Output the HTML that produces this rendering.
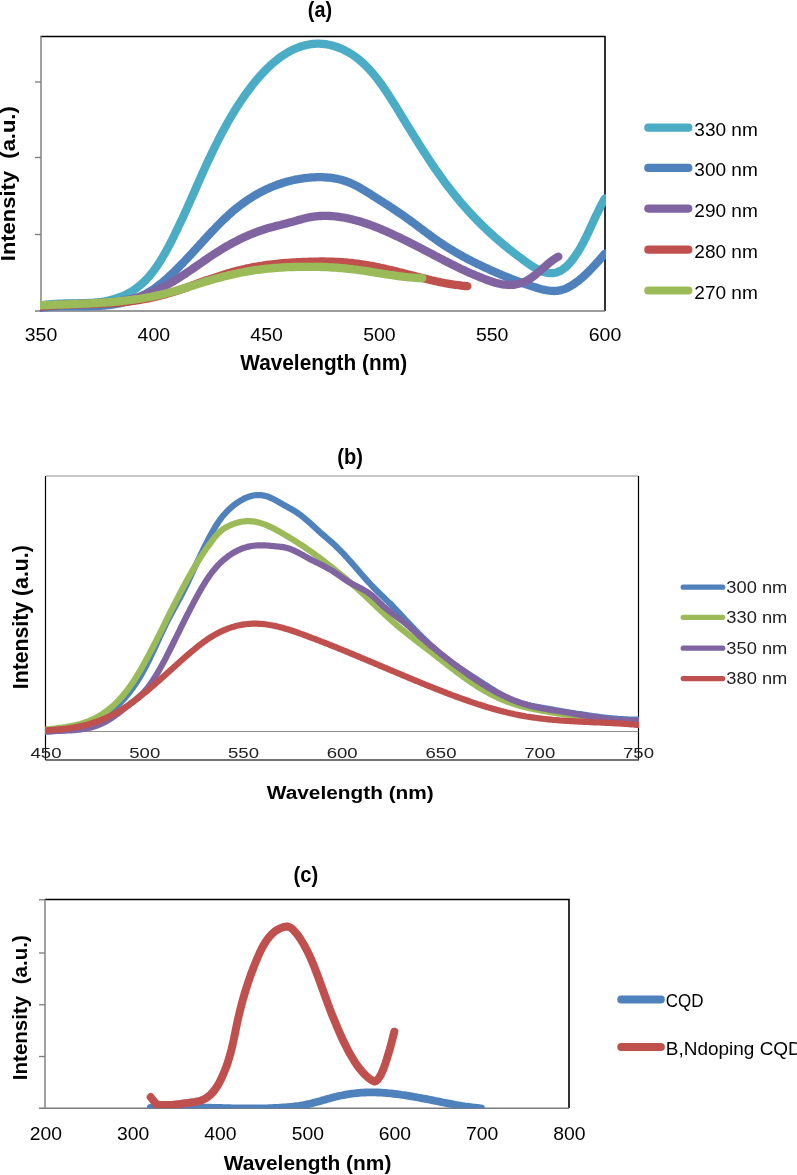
<!DOCTYPE html>
<html><head><meta charset="utf-8"><title>Chart</title>
<style>
html,body{margin:0;padding:0;background:#fff;}
body{width:797px;height:1175px;overflow:hidden;}
svg{display:block;font-family:"Liberation Sans", sans-serif;will-change:transform;}
</style></head><body>
<svg width="797" height="1175" viewBox="0 0 797 1175">
<rect width="797" height="1175" fill="#fff"/>
<defs><clipPath id="ca"><rect x="40" y="30" width="566" height="290"/></clipPath><clipPath id="cb"><rect x="45" y="470" width="594" height="290"/></clipPath><clipPath id="cc"><rect x="45" y="899" width="524" height="209.3"/></clipPath></defs>
<text x="307.8" y="16.6" font-size="22.5" font-weight="bold" textLength="24.2" lengthAdjust="spacingAndGlyphs">(a)</text>
<path d="M40.5,36.5 H605 V311" fill="none" stroke="#000" stroke-width="1.6"/>
<path d="M41,36 V311.5 M35,311 H605" fill="none" stroke="#7b7b7b" stroke-width="1.4"/>
<path d="M35,82.0 H41" stroke="#7b7b7b" stroke-width="1.3"/>
<path d="M35,157.5 H41" stroke="#7b7b7b" stroke-width="1.3"/>
<path d="M35,234.5 H41" stroke="#7b7b7b" stroke-width="1.3"/>
<path d="M40.0,305.7 L41.5,305.4 L43.0,305.2 L44.5,304.9 L46.0,304.7 L47.5,304.6 L49.0,304.4 L50.5,304.2 L52.0,304.1 L53.5,304.0 L55.0,303.9 L56.5,303.8 L58.0,303.7 L59.5,303.7 L61.0,303.6 L62.5,303.6 L64.0,303.5 L65.5,303.5 L67.0,303.5 L68.6,303.4 L70.1,303.4 L71.6,303.4 L73.1,303.4 L74.6,303.4 L76.1,303.4 L77.6,303.3 L79.1,303.3 L80.6,303.3 L82.1,303.3 L83.6,303.2 L85.1,303.2 L86.6,303.1 L88.1,303.0 L89.6,303.0 L91.1,302.9 L92.6,302.8 L94.1,302.6 L95.6,302.5 L97.1,302.4 L98.6,302.2 L100.1,302.0 L101.6,301.8 L103.1,301.5 L104.6,301.3 L106.1,301.0 L107.6,300.7 L109.1,300.4 L110.6,300.0 L112.1,299.6 L113.6,299.2 L115.1,298.8 L116.6,298.3 L118.1,297.8 L119.6,297.2 L121.1,296.6 L122.6,296.0 L124.1,295.4 L125.7,294.7 L127.2,293.9 L128.7,293.1 L130.2,292.3 L131.7,291.4 L133.2,290.4 L134.7,289.4 L136.2,288.3 L137.7,287.2 L139.2,286.0 L140.7,284.8 L142.2,283.4 L143.7,282.0 L145.2,280.6 L146.7,279.0 L148.2,277.4 L149.7,275.7 L151.2,273.9 L152.7,272.0 L154.2,270.0 L155.7,267.9 L157.2,265.8 L158.7,263.5 L160.2,261.2 L161.7,258.8 L163.2,256.2 L164.7,253.6 L166.2,251.0 L167.7,248.2 L169.2,245.4 L170.7,242.5 L172.2,239.6 L173.7,236.6 L175.2,233.5 L176.7,230.4 L178.2,227.3 L179.7,224.1 L181.2,220.8 L182.8,217.6 L184.3,214.3 L185.8,210.9 L187.3,207.6 L188.8,204.2 L190.3,200.9 L191.8,197.5 L193.3,194.1 L194.8,190.7 L196.3,187.3 L197.8,183.9 L199.3,180.5 L200.8,177.1 L202.3,173.8 L203.8,170.4 L205.3,167.1 L206.8,163.8 L208.3,160.6 L209.8,157.4 L211.3,154.2 L212.8,151.1 L214.3,148.0 L215.8,145.0 L217.3,142.0 L218.8,139.0 L220.3,136.1 L221.8,133.3 L223.3,130.5 L224.8,127.7 L226.3,125.0 L227.8,122.3 L229.3,119.7 L230.8,117.1 L232.3,114.6 L233.8,112.1 L235.3,109.6 L236.8,107.2 L238.4,104.9 L239.9,102.6 L241.4,100.3 L242.9,98.1 L244.4,95.9 L245.9,93.8 L247.4,91.7 L248.9,89.7 L250.4,87.7 L251.9,85.7 L253.4,83.8 L254.9,82.0 L256.4,80.2 L257.9,78.4 L259.4,76.7 L260.9,75.0 L262.4,73.4 L263.9,71.8 L265.4,70.2 L266.9,68.7 L268.4,67.3 L269.9,65.9 L271.4,64.5 L272.9,63.2 L274.4,61.9 L275.9,60.7 L277.4,59.5 L278.9,58.3 L280.4,57.2 L281.9,56.1 L283.4,55.1 L284.9,54.2 L286.4,53.2 L287.9,52.3 L289.4,51.5 L290.9,50.7 L292.4,49.9 L293.9,49.2 L295.5,48.6 L297.0,47.9 L298.5,47.4 L300.0,46.8 L301.5,46.3 L303.0,45.9 L304.5,45.5 L306.0,45.1 L307.5,44.8 L309.0,44.5 L310.5,44.2 L312.0,44.0 L313.5,43.9 L315.0,43.8 L316.5,43.7 L318.0,43.7 L319.5,43.7 L321.0,43.8 L322.5,43.9 L324.0,44.0 L325.5,44.2 L327.0,44.4 L328.5,44.7 L330.0,45.0 L331.5,45.4 L333.0,45.8 L334.5,46.2 L336.0,46.7 L337.5,47.2 L339.0,47.8 L340.5,48.4 L342.0,49.0 L343.5,49.7 L345.0,50.5 L346.5,51.3 L348.0,52.1 L349.5,53.0 L351.1,53.9 L352.6,54.9 L354.1,55.9 L355.6,57.0 L357.1,58.1 L358.6,59.3 L360.1,60.5 L361.6,61.8 L363.1,63.2 L364.6,64.6 L366.1,66.1 L367.6,67.6 L369.1,69.2 L370.6,70.8 L372.1,72.5 L373.6,74.3 L375.1,76.1 L376.6,78.0 L378.1,80.0 L379.6,82.0 L381.1,84.0 L382.6,86.1 L384.1,88.3 L385.6,90.5 L387.1,92.8 L388.6,95.1 L390.1,97.4 L391.6,99.7 L393.1,102.1 L394.6,104.5 L396.1,106.9 L397.6,109.4 L399.1,111.8 L400.6,114.3 L402.1,116.8 L403.6,119.2 L405.1,121.7 L406.6,124.2 L408.2,126.7 L409.7,129.1 L411.2,131.6 L412.7,134.0 L414.2,136.4 L415.7,138.8 L417.2,141.2 L418.7,143.6 L420.2,146.0 L421.7,148.4 L423.2,150.7 L424.7,153.0 L426.2,155.3 L427.7,157.6 L429.2,159.9 L430.7,162.1 L432.2,164.4 L433.7,166.6 L435.2,168.8 L436.7,170.9 L438.2,173.1 L439.7,175.2 L441.2,177.3 L442.7,179.3 L444.2,181.4 L445.7,183.4 L447.2,185.4 L448.7,187.4 L450.2,189.3 L451.7,191.2 L453.2,193.1 L454.7,195.0 L456.2,196.9 L457.7,198.7 L459.2,200.5 L460.7,202.3 L462.2,204.1 L463.8,205.8 L465.3,207.5 L466.8,209.2 L468.3,210.9 L469.8,212.6 L471.3,214.2 L472.8,215.8 L474.3,217.4 L475.8,219.0 L477.3,220.5 L478.8,222.0 L480.3,223.5 L481.8,225.0 L483.3,226.5 L484.8,227.9 L486.3,229.4 L487.8,230.8 L489.3,232.2 L490.8,233.5 L492.3,234.9 L493.8,236.2 L495.3,237.6 L496.8,238.9 L498.3,240.2 L499.8,241.4 L501.3,242.7 L502.8,244.0 L504.3,245.2 L505.8,246.4 L507.3,247.7 L508.8,248.9 L510.3,250.1 L511.8,251.2 L513.3,252.4 L514.8,253.6 L516.3,254.7 L517.8,255.9 L519.3,257.0 L520.9,258.1 L522.4,259.3 L523.9,260.4 L525.4,261.5 L526.9,262.6 L528.4,263.6 L529.9,264.7 L531.4,265.7 L532.9,266.6 L534.4,267.6 L535.9,268.4 L537.4,269.3 L538.9,270.0 L540.4,270.7 L541.9,271.3 L543.4,271.9 L544.9,272.3 L546.4,272.7 L547.9,272.9 L549.4,273.1 L550.9,273.2 L552.4,273.1 L553.9,273.0 L555.4,272.7 L556.9,272.3 L558.4,271.7 L559.9,271.1 L561.4,270.2 L562.9,269.3 L564.4,268.1 L565.9,266.9 L567.4,265.5 L568.9,264.0 L570.4,262.3 L571.9,260.5 L573.4,258.5 L574.9,256.4 L576.4,254.2 L578.0,251.9 L579.5,249.4 L581.0,246.8 L582.5,244.1 L584.0,241.2 L585.5,238.2 L587.0,235.2 L588.5,232.0 L590.0,228.8 L591.5,225.5 L593.0,222.3 L594.5,219.0 L596.0,215.8 L597.5,212.7 L599.0,209.6 L600.5,206.6 L602.0,203.8 L603.5,201.0 L605.0,198.5" fill="none" stroke="#4BACC6" stroke-width="8.3" stroke-linecap="round" stroke-linejoin="round" clip-path="url(#ca)"/>
<path d="M40.0,307.9 L41.5,307.7 L43.0,307.5 L44.5,307.3 L46.0,307.2 L47.5,307.1 L49.0,306.9 L50.5,306.8 L52.0,306.7 L53.5,306.6 L55.0,306.6 L56.5,306.5 L58.0,306.4 L59.5,306.4 L61.0,306.4 L62.5,306.3 L64.0,306.3 L65.5,306.3 L67.0,306.3 L68.6,306.3 L70.1,306.3 L71.6,306.3 L73.1,306.3 L74.6,306.3 L76.1,306.3 L77.6,306.3 L79.1,306.3 L80.6,306.3 L82.1,306.3 L83.6,306.3 L85.1,306.3 L86.6,306.3 L88.1,306.3 L89.6,306.3 L91.1,306.2 L92.6,306.2 L94.1,306.1 L95.6,306.1 L97.1,306.0 L98.6,306.0 L100.1,305.9 L101.6,305.8 L103.1,305.7 L104.6,305.5 L106.1,305.4 L107.6,305.2 L109.1,305.1 L110.6,304.9 L112.1,304.7 L113.6,304.5 L115.1,304.2 L116.6,303.9 L118.1,303.7 L119.6,303.4 L121.1,303.0 L122.6,302.7 L124.1,302.3 L125.7,301.9 L127.2,301.5 L128.7,301.0 L130.2,300.5 L131.7,300.0 L133.2,299.5 L134.7,298.9 L136.2,298.3 L137.7,297.7 L139.2,297.1 L140.7,296.4 L142.2,295.7 L143.7,294.9 L145.2,294.1 L146.7,293.3 L148.2,292.4 L149.7,291.5 L151.2,290.6 L152.7,289.6 L154.2,288.6 L155.7,287.5 L157.2,286.5 L158.7,285.3 L160.2,284.1 L161.7,282.9 L163.2,281.7 L164.7,280.4 L166.2,279.1 L167.7,277.8 L169.2,276.4 L170.7,275.0 L172.2,273.6 L173.7,272.2 L175.2,270.7 L176.7,269.2 L178.2,267.7 L179.7,266.2 L181.2,264.6 L182.8,263.1 L184.3,261.5 L185.8,259.9 L187.3,258.3 L188.8,256.7 L190.3,255.1 L191.8,253.5 L193.3,251.8 L194.8,250.2 L196.3,248.5 L197.8,246.9 L199.3,245.3 L200.8,243.6 L202.3,242.0 L203.8,240.3 L205.3,238.7 L206.8,237.1 L208.3,235.4 L209.8,233.8 L211.3,232.2 L212.8,230.6 L214.3,229.1 L215.8,227.5 L217.3,225.9 L218.8,224.4 L220.3,222.9 L221.8,221.4 L223.3,219.9 L224.8,218.5 L226.3,217.1 L227.8,215.7 L229.3,214.3 L230.8,213.0 L232.3,211.7 L233.8,210.4 L235.3,209.1 L236.8,207.9 L238.4,206.7 L239.9,205.5 L241.4,204.4 L242.9,203.3 L244.4,202.2 L245.9,201.2 L247.4,200.1 L248.9,199.1 L250.4,198.2 L251.9,197.2 L253.4,196.3 L254.9,195.4 L256.4,194.5 L257.9,193.7 L259.4,192.8 L260.9,192.0 L262.4,191.3 L263.9,190.5 L265.4,189.8 L266.9,189.1 L268.4,188.4 L269.9,187.7 L271.4,187.1 L272.9,186.5 L274.4,185.9 L275.9,185.3 L277.4,184.8 L278.9,184.2 L280.4,183.7 L281.9,183.2 L283.4,182.7 L284.9,182.3 L286.4,181.8 L287.9,181.4 L289.4,181.0 L290.9,180.7 L292.4,180.3 L293.9,180.0 L295.5,179.6 L297.0,179.3 L298.5,179.1 L300.0,178.8 L301.5,178.6 L303.0,178.3 L304.5,178.1 L306.0,178.0 L307.5,177.8 L309.0,177.7 L310.5,177.5 L312.0,177.4 L313.5,177.3 L315.0,177.3 L316.5,177.2 L318.0,177.2 L319.5,177.2 L321.0,177.2 L322.5,177.2 L324.0,177.3 L325.5,177.4 L327.0,177.5 L328.5,177.6 L330.0,177.7 L331.5,177.9 L333.0,178.1 L334.5,178.4 L336.0,178.6 L337.5,178.9 L339.0,179.3 L340.5,179.6 L342.0,180.0 L343.5,180.5 L345.0,181.0 L346.5,181.5 L348.0,182.0 L349.5,182.6 L351.1,183.3 L352.6,184.0 L354.1,184.7 L355.6,185.4 L357.1,186.2 L358.6,187.0 L360.1,187.9 L361.6,188.8 L363.1,189.6 L364.6,190.5 L366.1,191.5 L367.6,192.4 L369.1,193.3 L370.6,194.3 L372.1,195.2 L373.6,196.2 L375.1,197.1 L376.6,198.1 L378.1,199.0 L379.6,200.0 L381.1,201.0 L382.6,201.9 L384.1,202.9 L385.6,203.9 L387.1,204.8 L388.6,205.8 L390.1,206.8 L391.6,207.7 L393.1,208.7 L394.6,209.7 L396.1,210.7 L397.6,211.7 L399.1,212.7 L400.6,213.7 L402.1,214.8 L403.6,215.8 L405.1,216.9 L406.6,218.0 L408.2,219.1 L409.7,220.2 L411.2,221.3 L412.7,222.4 L414.2,223.5 L415.7,224.6 L417.2,225.8 L418.7,226.9 L420.2,228.0 L421.7,229.1 L423.2,230.3 L424.7,231.4 L426.2,232.5 L427.7,233.6 L429.2,234.7 L430.7,235.8 L432.2,236.9 L433.7,238.0 L435.2,239.1 L436.7,240.1 L438.2,241.2 L439.7,242.2 L441.2,243.2 L442.7,244.2 L444.2,245.2 L445.7,246.2 L447.2,247.1 L448.7,248.1 L450.2,249.0 L451.7,249.9 L453.2,250.8 L454.7,251.7 L456.2,252.6 L457.7,253.5 L459.2,254.4 L460.7,255.2 L462.2,256.0 L463.8,256.9 L465.3,257.7 L466.8,258.5 L468.3,259.3 L469.8,260.1 L471.3,260.8 L472.8,261.6 L474.3,262.4 L475.8,263.1 L477.3,263.9 L478.8,264.6 L480.3,265.3 L481.8,266.0 L483.3,266.7 L484.8,267.5 L486.3,268.1 L487.8,268.8 L489.3,269.5 L490.8,270.2 L492.3,270.9 L493.8,271.5 L495.3,272.2 L496.8,272.8 L498.3,273.5 L499.8,274.1 L501.3,274.7 L502.8,275.4 L504.3,276.0 L505.8,276.6 L507.3,277.2 L508.8,277.8 L510.3,278.4 L511.8,279.0 L513.3,279.6 L514.8,280.2 L516.3,280.8 L517.8,281.3 L519.3,281.9 L520.9,282.5 L522.4,283.0 L523.9,283.5 L525.4,284.1 L526.9,284.6 L528.4,285.1 L529.9,285.6 L531.4,286.1 L532.9,286.6 L534.4,287.1 L535.9,287.5 L537.4,288.0 L538.9,288.4 L540.4,288.9 L541.9,289.3 L543.4,289.6 L544.9,290.0 L546.4,290.2 L547.9,290.5 L549.4,290.7 L550.9,290.8 L552.4,290.9 L553.9,291.0 L555.4,290.9 L556.9,290.8 L558.4,290.6 L559.9,290.4 L561.4,290.0 L562.9,289.6 L564.4,289.1 L565.9,288.5 L567.4,287.8 L568.9,287.0 L570.4,286.2 L571.9,285.3 L573.4,284.4 L574.9,283.3 L576.4,282.2 L578.0,281.1 L579.5,279.9 L581.0,278.6 L582.5,277.3 L584.0,276.0 L585.5,274.6 L587.0,273.1 L588.5,271.7 L590.0,270.1 L591.5,268.6 L593.0,267.0 L594.5,265.4 L596.0,263.7 L597.5,262.1 L599.0,260.4 L600.5,258.7 L602.0,257.0 L603.5,255.3 L605.0,253.6" fill="none" stroke="#4F81BD" stroke-width="8.3" stroke-linecap="round" stroke-linejoin="round" clip-path="url(#ca)"/>
<path d="M40.0,307.3 L41.5,307.0 L43.0,306.7 L44.5,306.5 L46.0,306.3 L47.5,306.0 L49.0,305.8 L50.5,305.6 L52.0,305.4 L53.5,305.3 L55.0,305.1 L56.5,305.0 L58.0,304.8 L59.5,304.7 L61.0,304.6 L62.5,304.5 L64.0,304.4 L65.5,304.3 L67.0,304.2 L68.5,304.1 L70.1,304.1 L71.6,304.0 L73.1,303.9 L74.6,303.9 L76.1,303.8 L77.6,303.8 L79.1,303.7 L80.6,303.7 L82.1,303.6 L83.6,303.6 L85.1,303.5 L86.6,303.5 L88.1,303.4 L89.6,303.4 L91.1,303.3 L92.6,303.3 L94.1,303.2 L95.6,303.2 L97.1,303.1 L98.6,303.0 L100.1,303.0 L101.6,302.9 L103.1,302.8 L104.6,302.7 L106.1,302.6 L107.6,302.5 L109.1,302.3 L110.6,302.2 L112.1,302.1 L113.6,301.9 L115.1,301.7 L116.6,301.6 L118.1,301.4 L119.6,301.1 L121.1,300.9 L122.6,300.7 L124.1,300.4 L125.6,300.2 L127.2,299.9 L128.7,299.6 L130.2,299.3 L131.7,298.9 L133.2,298.6 L134.7,298.2 L136.2,297.8 L137.7,297.4 L139.2,297.0 L140.7,296.5 L142.2,296.0 L143.7,295.5 L145.2,295.0 L146.7,294.4 L148.2,293.9 L149.7,293.3 L151.2,292.7 L152.7,292.0 L154.2,291.4 L155.7,290.7 L157.2,290.0 L158.7,289.3 L160.2,288.5 L161.7,287.8 L163.2,287.0 L164.7,286.2 L166.2,285.4 L167.7,284.6 L169.2,283.7 L170.7,282.9 L172.2,282.0 L173.7,281.1 L175.2,280.2 L176.7,279.3 L178.2,278.3 L179.7,277.4 L181.2,276.4 L182.7,275.4 L184.3,274.5 L185.8,273.5 L187.3,272.4 L188.8,271.4 L190.3,270.4 L191.8,269.4 L193.3,268.3 L194.8,267.3 L196.3,266.2 L197.8,265.2 L199.3,264.1 L200.8,263.1 L202.3,262.1 L203.8,261.0 L205.3,260.0 L206.8,259.0 L208.3,257.9 L209.8,256.9 L211.3,255.9 L212.8,254.9 L214.3,253.9 L215.8,253.0 L217.3,252.0 L218.8,251.1 L220.3,250.1 L221.8,249.2 L223.3,248.3 L224.8,247.4 L226.3,246.5 L227.8,245.7 L229.3,244.8 L230.8,244.0 L232.3,243.2 L233.8,242.4 L235.3,241.6 L236.8,240.8 L238.3,240.0 L239.8,239.3 L241.3,238.6 L242.9,237.8 L244.4,237.1 L245.9,236.4 L247.4,235.8 L248.9,235.1 L250.4,234.5 L251.9,233.9 L253.4,233.2 L254.9,232.7 L256.4,232.1 L257.9,231.5 L259.4,231.0 L260.9,230.5 L262.4,230.0 L263.9,229.5 L265.4,229.0 L266.9,228.5 L268.4,228.1 L269.9,227.7 L271.4,227.3 L272.9,226.9 L274.4,226.5 L275.9,226.1 L277.4,225.7 L278.9,225.3 L280.4,225.0 L281.9,224.6 L283.4,224.2 L284.9,223.8 L286.4,223.4 L287.9,223.0 L289.4,222.6 L290.9,222.2 L292.4,221.8 L293.9,221.4 L295.4,220.9 L296.9,220.5 L298.4,220.0 L300.0,219.6 L301.5,219.2 L303.0,218.8 L304.5,218.4 L306.0,218.0 L307.5,217.7 L309.0,217.4 L310.5,217.1 L312.0,216.8 L313.5,216.6 L315.0,216.4 L316.5,216.3 L318.0,216.1 L319.5,216.0 L321.0,216.0 L322.5,215.9 L324.0,215.9 L325.5,215.9 L327.0,215.9 L328.5,215.9 L330.0,216.0 L331.5,216.1 L333.0,216.2 L334.5,216.3 L336.0,216.5 L337.5,216.6 L339.0,216.8 L340.5,217.1 L342.0,217.3 L343.5,217.5 L345.0,217.8 L346.5,218.1 L348.0,218.4 L349.5,218.8 L351.0,219.1 L352.5,219.5 L354.0,219.9 L355.5,220.3 L357.1,220.7 L358.6,221.1 L360.1,221.5 L361.6,222.0 L363.1,222.5 L364.6,223.0 L366.1,223.5 L367.6,224.0 L369.1,224.5 L370.6,225.0 L372.1,225.6 L373.6,226.2 L375.1,226.7 L376.6,227.3 L378.1,227.9 L379.6,228.5 L381.1,229.2 L382.6,229.8 L384.1,230.4 L385.6,231.1 L387.1,231.7 L388.6,232.4 L390.1,233.1 L391.6,233.8 L393.1,234.5 L394.6,235.2 L396.1,235.9 L397.6,236.6 L399.1,237.3 L400.6,238.0 L402.1,238.8 L403.6,239.5 L405.1,240.2 L406.6,241.0 L408.1,241.8 L409.6,242.5 L411.1,243.3 L412.6,244.0 L414.1,244.8 L415.7,245.6 L417.2,246.4 L418.7,247.1 L420.2,247.9 L421.7,248.7 L423.2,249.5 L424.7,250.3 L426.2,251.1 L427.7,251.8 L429.2,252.6 L430.7,253.4 L432.2,254.2 L433.7,255.0 L435.2,255.8 L436.7,256.6 L438.2,257.3 L439.7,258.1 L441.2,258.9 L442.7,259.7 L444.2,260.5 L445.7,261.2 L447.2,262.0 L448.7,262.8 L450.2,263.5 L451.7,264.3 L453.2,265.0 L454.7,265.8 L456.2,266.5 L457.7,267.2 L459.2,268.0 L460.7,268.7 L462.2,269.4 L463.7,270.1 L465.2,270.8 L466.7,271.5 L468.2,272.2 L469.7,272.9 L471.2,273.5 L472.8,274.2 L474.3,274.8 L475.8,275.5 L477.3,276.1 L478.8,276.7 L480.3,277.3 L481.8,277.9 L483.3,278.5 L484.8,279.1 L486.3,279.7 L487.8,280.2 L489.3,280.7 L490.8,281.3 L492.3,281.8 L493.8,282.2 L495.3,282.7 L496.8,283.1 L498.3,283.4 L499.8,283.8 L501.3,284.1 L502.8,284.3 L504.3,284.6 L505.8,284.7 L507.3,284.8 L508.8,284.9 L510.3,284.9 L511.8,284.9 L513.3,284.8 L514.8,284.6 L516.3,284.3 L517.8,284.0 L519.3,283.6 L520.8,283.2 L522.3,282.7 L523.8,282.1 L525.3,281.4 L526.8,280.6 L528.3,279.7 L529.9,278.8 L531.4,277.8 L532.9,276.7 L534.4,275.6 L535.9,274.3 L537.4,273.1 L538.9,271.8 L540.4,270.5 L541.9,269.2 L543.4,267.9 L544.9,266.6 L546.4,265.3 L547.9,264.0 L549.4,262.8 L550.9,261.6 L552.4,260.4 L553.9,259.4 L555.4,258.4 L556.9,257.4 L558.4,256.6" fill="none" stroke="#8064A2" stroke-width="8.3" stroke-linecap="round" stroke-linejoin="round" clip-path="url(#ca)"/>
<path d="M40.0,306.5 L41.5,306.3 L43.0,306.2 L44.5,306.1 L46.0,305.9 L47.5,305.8 L49.0,305.7 L50.5,305.6 L52.0,305.5 L53.5,305.4 L55.0,305.3 L56.6,305.2 L58.1,305.1 L59.6,305.0 L61.1,304.9 L62.6,304.9 L64.1,304.8 L65.6,304.8 L67.1,304.7 L68.6,304.6 L70.1,304.6 L71.6,304.5 L73.1,304.5 L74.6,304.5 L76.1,304.4 L77.6,304.4 L79.1,304.3 L80.6,304.3 L82.1,304.3 L83.6,304.2 L85.1,304.2 L86.7,304.1 L88.2,304.1 L89.7,304.1 L91.2,304.0 L92.7,304.0 L94.2,303.9 L95.7,303.9 L97.2,303.8 L98.7,303.8 L100.2,303.7 L101.7,303.7 L103.2,303.6 L104.7,303.5 L106.2,303.5 L107.7,303.4 L109.2,303.3 L110.7,303.2 L112.2,303.1 L113.7,303.0 L115.2,302.9 L116.8,302.8 L118.3,302.7 L119.8,302.5 L121.3,302.4 L122.8,302.2 L124.3,302.1 L125.8,301.9 L127.3,301.8 L128.8,301.6 L130.3,301.4 L131.8,301.2 L133.3,301.0 L134.8,300.8 L136.3,300.5 L137.8,300.3 L139.3,300.0 L140.8,299.8 L142.3,299.5 L143.8,299.2 L145.3,299.0 L146.8,298.7 L148.4,298.4 L149.9,298.0 L151.4,297.7 L152.9,297.4 L154.4,297.0 L155.9,296.7 L157.4,296.3 L158.9,296.0 L160.4,295.6 L161.9,295.2 L163.4,294.8 L164.9,294.4 L166.4,294.0 L167.9,293.5 L169.4,293.1 L170.9,292.6 L172.4,292.2 L173.9,291.7 L175.4,291.3 L176.9,290.8 L178.5,290.3 L180.0,289.8 L181.5,289.3 L183.0,288.8 L184.5,288.2 L186.0,287.7 L187.5,287.2 L189.0,286.6 L190.5,286.1 L192.0,285.5 L193.5,285.0 L195.0,284.4 L196.5,283.9 L198.0,283.3 L199.5,282.8 L201.0,282.3 L202.5,281.7 L204.0,281.2 L205.5,280.7 L207.0,280.1 L208.6,279.6 L210.1,279.1 L211.6,278.6 L213.1,278.1 L214.6,277.6 L216.1,277.1 L217.6,276.6 L219.1,276.1 L220.6,275.6 L222.1,275.2 L223.6,274.7 L225.1,274.2 L226.6,273.8 L228.1,273.3 L229.6,272.9 L231.1,272.5 L232.6,272.0 L234.1,271.6 L235.6,271.2 L237.1,270.8 L238.7,270.4 L240.2,270.1 L241.7,269.7 L243.2,269.3 L244.7,269.0 L246.2,268.6 L247.7,268.3 L249.2,268.0 L250.7,267.7 L252.2,267.4 L253.7,267.1 L255.2,266.8 L256.7,266.5 L258.2,266.3 L259.7,266.0 L261.2,265.8 L262.7,265.6 L264.2,265.3 L265.7,265.1 L267.2,264.9 L268.7,264.7 L270.3,264.5 L271.8,264.3 L273.3,264.2 L274.8,264.0 L276.3,263.8 L277.8,263.7 L279.3,263.5 L280.8,263.4 L282.3,263.2 L283.8,263.1 L285.3,263.0 L286.8,262.9 L288.3,262.8 L289.8,262.7 L291.3,262.6 L292.8,262.5 L294.3,262.4 L295.8,262.3 L297.3,262.2 L298.8,262.1 L300.4,262.1 L301.9,262.0 L303.4,261.9 L304.9,261.9 L306.4,261.8 L307.9,261.8 L309.4,261.7 L310.9,261.7 L312.4,261.7 L313.9,261.6 L315.4,261.6 L316.9,261.6 L318.4,261.6 L319.9,261.5 L321.4,261.5 L322.9,261.5 L324.4,261.5 L325.9,261.6 L327.4,261.6 L328.9,261.6 L330.5,261.6 L332.0,261.7 L333.5,261.7 L335.0,261.8 L336.5,261.8 L338.0,261.9 L339.5,262.0 L341.0,262.1 L342.5,262.2 L344.0,262.3 L345.5,262.4 L347.0,262.5 L348.5,262.7 L350.0,262.8 L351.5,262.9 L353.0,263.1 L354.5,263.3 L356.0,263.5 L357.5,263.7 L359.0,263.9 L360.5,264.1 L362.1,264.3 L363.6,264.5 L365.1,264.8 L366.6,265.0 L368.1,265.3 L369.6,265.6 L371.1,265.8 L372.6,266.1 L374.1,266.4 L375.6,266.7 L377.1,267.0 L378.6,267.3 L380.1,267.7 L381.6,268.0 L383.1,268.3 L384.6,268.6 L386.1,269.0 L387.6,269.3 L389.1,269.7 L390.6,270.0 L392.2,270.4 L393.7,270.8 L395.2,271.1 L396.7,271.5 L398.2,271.9 L399.7,272.3 L401.2,272.6 L402.7,273.0 L404.2,273.4 L405.7,273.8 L407.2,274.2 L408.7,274.6 L410.2,274.9 L411.7,275.3 L413.2,275.7 L414.7,276.1 L416.2,276.5 L417.7,276.9 L419.2,277.2 L420.7,277.6 L422.3,278.0 L423.8,278.4 L425.3,278.7 L426.8,279.1 L428.3,279.5 L429.8,279.8 L431.3,280.2 L432.8,280.5 L434.3,280.9 L435.8,281.2 L437.3,281.5 L438.8,281.9 L440.3,282.2 L441.8,282.5 L443.3,282.8 L444.8,283.1 L446.3,283.3 L447.8,283.6 L449.3,283.9 L450.8,284.1 L452.4,284.4 L453.9,284.6 L455.4,284.8 L456.9,285.0 L458.4,285.2 L459.9,285.4 L461.4,285.6 L462.9,285.8 L464.4,285.9 L465.9,286.1 L467.4,286.2" fill="none" stroke="#C0504D" stroke-width="8.3" stroke-linecap="round" stroke-linejoin="round" clip-path="url(#ca)"/>
<path d="M40.0,305.3 L41.5,305.3 L43.0,305.2 L44.5,305.1 L46.0,305.1 L47.5,305.0 L49.0,305.0 L50.5,304.9 L52.0,304.8 L53.5,304.8 L55.1,304.7 L56.6,304.7 L58.1,304.6 L59.6,304.6 L61.1,304.5 L62.6,304.5 L64.1,304.4 L65.6,304.4 L67.1,304.3 L68.6,304.3 L70.1,304.2 L71.6,304.2 L73.1,304.1 L74.6,304.0 L76.1,304.0 L77.6,303.9 L79.1,303.9 L80.6,303.8 L82.1,303.7 L83.6,303.7 L85.2,303.6 L86.7,303.5 L88.2,303.5 L89.7,303.4 L91.2,303.3 L92.7,303.2 L94.2,303.2 L95.7,303.1 L97.2,303.0 L98.7,302.9 L100.2,302.8 L101.7,302.7 L103.2,302.6 L104.7,302.5 L106.2,302.4 L107.7,302.3 L109.2,302.2 L110.7,302.0 L112.2,301.9 L113.8,301.8 L115.3,301.7 L116.8,301.5 L118.3,301.4 L119.8,301.2 L121.3,301.1 L122.8,300.9 L124.3,300.7 L125.8,300.6 L127.3,300.4 L128.8,300.2 L130.3,300.0 L131.8,299.8 L133.3,299.6 L134.8,299.4 L136.3,299.2 L137.8,299.0 L139.3,298.8 L140.8,298.5 L142.3,298.3 L143.9,298.0 L145.4,297.8 L146.9,297.5 L148.4,297.2 L149.9,297.0 L151.4,296.7 L152.9,296.4 L154.4,296.1 L155.9,295.7 L157.4,295.4 L158.9,295.1 L160.4,294.8 L161.9,294.4 L163.4,294.1 L164.9,293.7 L166.4,293.3 L167.9,292.9 L169.4,292.5 L170.9,292.1 L172.5,291.7 L174.0,291.3 L175.5,290.9 L177.0,290.4 L178.5,290.0 L180.0,289.5 L181.5,289.1 L183.0,288.6 L184.5,288.2 L186.0,287.7 L187.5,287.2 L189.0,286.7 L190.5,286.3 L192.0,285.8 L193.5,285.3 L195.0,284.9 L196.5,284.4 L198.0,283.9 L199.5,283.4 L201.0,283.0 L202.6,282.5 L204.1,282.1 L205.6,281.6 L207.1,281.2 L208.6,280.7 L210.1,280.3 L211.6,279.9 L213.1,279.4 L214.6,279.0 L216.1,278.6 L217.6,278.2 L219.1,277.8 L220.6,277.4 L222.1,277.0 L223.6,276.6 L225.1,276.2 L226.6,275.9 L228.1,275.5 L229.6,275.1 L231.2,274.8 L232.7,274.4 L234.2,274.1 L235.7,273.8 L237.2,273.5 L238.7,273.1 L240.2,272.8 L241.7,272.5 L243.2,272.2 L244.7,271.9 L246.2,271.7 L247.7,271.4 L249.2,271.1 L250.7,270.9 L252.2,270.7 L253.7,270.4 L255.2,270.2 L256.7,270.0 L258.2,269.8 L259.7,269.6 L261.3,269.4 L262.8,269.2 L264.3,269.0 L265.8,268.9 L267.3,268.7 L268.8,268.5 L270.3,268.4 L271.8,268.3 L273.3,268.1 L274.8,268.0 L276.3,267.9 L277.8,267.8 L279.3,267.7 L280.8,267.6 L282.3,267.5 L283.8,267.4 L285.3,267.3 L286.8,267.2 L288.3,267.2 L289.8,267.1 L291.4,267.1 L292.9,267.0 L294.4,267.0 L295.9,266.9 L297.4,266.9 L298.9,266.9 L300.4,266.8 L301.9,266.8 L303.4,266.8 L304.9,266.8 L306.4,266.8 L307.9,266.8 L309.4,266.8 L310.9,266.8 L312.4,266.8 L313.9,266.8 L315.4,266.8 L316.9,266.9 L318.4,266.9 L320.0,266.9 L321.5,267.0 L323.0,267.0 L324.5,267.1 L326.0,267.2 L327.5,267.2 L329.0,267.3 L330.5,267.4 L332.0,267.5 L333.5,267.5 L335.0,267.6 L336.5,267.7 L338.0,267.9 L339.5,268.0 L341.0,268.1 L342.5,268.2 L344.0,268.4 L345.5,268.5 L347.0,268.6 L348.5,268.8 L350.1,269.0 L351.6,269.1 L353.1,269.3 L354.6,269.5 L356.1,269.7 L357.6,269.9 L359.1,270.1 L360.6,270.3 L362.1,270.5 L363.6,270.7 L365.1,270.9 L366.6,271.2 L368.1,271.4 L369.6,271.6 L371.1,271.9 L372.6,272.1 L374.1,272.4 L375.6,272.6 L377.1,272.9 L378.7,273.1 L380.2,273.3 L381.7,273.6 L383.2,273.8 L384.7,274.1 L386.2,274.3 L387.7,274.5 L389.2,274.8 L390.7,275.0 L392.2,275.2 L393.7,275.4 L395.2,275.7 L396.7,275.9 L398.2,276.1 L399.7,276.3 L401.2,276.5 L402.7,276.6 L404.2,276.8 L405.7,277.0 L407.2,277.1 L408.8,277.3 L410.3,277.4 L411.8,277.6 L413.3,277.7 L414.8,277.8 L416.3,277.9 L417.8,278.0 L419.3,278.0 L420.8,278.1 L422.3,278.1" fill="none" stroke="#9BBB59" stroke-width="8.3" stroke-linecap="round" stroke-linejoin="round" clip-path="url(#ca)"/>
<text x="41.0" y="340.6" font-size="19.0" text-anchor="middle" textLength="32.5" lengthAdjust="spacingAndGlyphs">350</text>
<text x="153.8" y="340.6" font-size="19.0" text-anchor="middle" textLength="32.5" lengthAdjust="spacingAndGlyphs">400</text>
<text x="266.6" y="340.6" font-size="19.0" text-anchor="middle" textLength="32.5" lengthAdjust="spacingAndGlyphs">450</text>
<text x="379.4" y="340.6" font-size="19.0" text-anchor="middle" textLength="32.5" lengthAdjust="spacingAndGlyphs">500</text>
<text x="492.2" y="340.6" font-size="19.0" text-anchor="middle" textLength="32.5" lengthAdjust="spacingAndGlyphs">550</text>
<text x="605.0" y="340.6" font-size="19.0" text-anchor="middle" textLength="32.5" lengthAdjust="spacingAndGlyphs">600</text>
<text x="240.3" y="369.6" font-size="21.5" font-weight="bold" textLength="166.8" lengthAdjust="spacingAndGlyphs">Wavelength (nm)</text>
<text x="15.2" y="261.2" font-size="20.0" font-weight="bold" textLength="155.0" lengthAdjust="spacingAndGlyphs" transform="rotate(-90 15.2 261.2)">Intensity&#160;&#160;(a.u.)</text>
<path d="M648.3,127.7 H688.3" stroke="#4BACC6" stroke-width="8.2" stroke-linecap="round"/>
<text x="694.3" y="135.7" font-size="18.5" textLength="63.5" lengthAdjust="spacingAndGlyphs">330 nm</text>
<path d="M648.3,167.9 H688.3" stroke="#4F81BD" stroke-width="8.2" stroke-linecap="round"/>
<text x="694.3" y="175.9" font-size="18.5" textLength="63.5" lengthAdjust="spacingAndGlyphs">300 nm</text>
<path d="M648.3,208.6 H688.3" stroke="#8064A2" stroke-width="8.2" stroke-linecap="round"/>
<text x="694.3" y="216.6" font-size="18.5" textLength="63.5" lengthAdjust="spacingAndGlyphs">290 nm</text>
<path d="M648.3,249.7 H688.3" stroke="#C0504D" stroke-width="8.2" stroke-linecap="round"/>
<text x="694.3" y="257.7" font-size="18.5" textLength="63.5" lengthAdjust="spacingAndGlyphs">280 nm</text>
<path d="M648.3,290.5 H688.3" stroke="#9BBB59" stroke-width="8.2" stroke-linecap="round"/>
<text x="694.3" y="298.5" font-size="18.5" textLength="63.5" lengthAdjust="spacingAndGlyphs">270 nm</text>
<text x="337.3" y="464.0" font-size="22.0" font-weight="bold" textLength="25.6" lengthAdjust="spacingAndGlyphs">(b)</text>
<path d="M46,476 H638.5" stroke="#b4b4b4" stroke-width="1.4"/>
<path d="M45.5,476 V760 M638.5,476 V760" stroke="#000" stroke-width="1.2"/>
<path d="M45.5,760 H639" stroke="#444" stroke-width="1.5"/>
<path d="M46,731.5 H638.5" stroke="#909090" stroke-width="1"/>
<path d="M46.0,731.5 L47.5,731.5 L49.0,731.4 L50.5,731.4 L52.0,731.3 L53.5,731.2 L55.0,731.1 L56.5,731.0 L58.0,730.9 L59.5,730.8 L61.0,730.6 L62.5,730.4 L64.0,730.2 L65.5,730.0 L67.0,729.8 L68.5,729.6 L70.0,729.3 L71.5,729.0 L73.0,728.7 L74.5,728.4 L76.0,728.0 L77.5,727.6 L79.0,727.2 L80.5,726.8 L82.0,726.3 L83.5,725.9 L85.0,725.3 L86.5,724.8 L88.0,724.2 L89.5,723.6 L91.0,723.0 L92.5,722.3 L94.0,721.6 L95.5,720.8 L97.0,720.1 L98.5,719.3 L100.0,718.4 L101.5,717.5 L103.0,716.6 L104.5,715.6 L106.1,714.6 L107.6,713.6 L109.1,712.5 L110.6,711.3 L112.1,710.2 L113.6,708.9 L115.1,707.7 L116.6,706.3 L118.1,704.9 L119.6,703.5 L121.1,702.0 L122.6,700.4 L124.1,698.8 L125.6,697.0 L127.1,695.3 L128.6,693.4 L130.1,691.5 L131.6,689.5 L133.1,687.4 L134.6,685.3 L136.1,683.0 L137.6,680.7 L139.1,678.3 L140.6,675.8 L142.1,673.2 L143.6,670.5 L145.1,667.7 L146.6,664.9 L148.1,661.9 L149.6,658.8 L151.1,655.7 L152.6,652.6 L154.1,649.4 L155.6,646.1 L157.1,642.9 L158.6,639.6 L160.1,636.3 L161.6,633.1 L163.1,629.9 L164.6,626.8 L166.1,623.7 L167.6,620.7 L169.1,617.8 L170.6,615.0 L172.1,612.2 L173.6,609.5 L175.1,606.7 L176.6,604.0 L178.1,601.3 L179.6,598.5 L181.1,595.7 L182.6,592.8 L184.1,589.9 L185.6,586.9 L187.1,583.8 L188.6,580.6 L190.1,577.4 L191.6,574.2 L193.1,570.9 L194.6,567.7 L196.1,564.5 L197.6,561.2 L199.1,558.0 L200.6,554.9 L202.1,551.8 L203.6,548.7 L205.1,545.7 L206.6,542.8 L208.1,539.8 L209.6,537.0 L211.1,534.2 L212.6,531.5 L214.1,528.9 L215.6,526.4 L217.1,524.0 L218.6,521.7 L220.1,519.6 L221.6,517.6 L223.1,515.7 L224.7,514.0 L226.2,512.3 L227.7,510.7 L229.2,509.3 L230.7,507.9 L232.2,506.6 L233.7,505.3 L235.2,504.2 L236.7,503.1 L238.2,502.1 L239.7,501.1 L241.2,500.2 L242.7,499.4 L244.2,498.6 L245.7,497.9 L247.2,497.3 L248.7,496.7 L250.2,496.3 L251.7,495.9 L253.2,495.5 L254.7,495.3 L256.2,495.1 L257.7,495.1 L259.2,495.1 L260.7,495.1 L262.2,495.3 L263.7,495.6 L265.2,495.9 L266.7,496.3 L268.2,496.8 L269.7,497.4 L271.2,498.1 L272.7,498.8 L274.2,499.5 L275.7,500.3 L277.2,501.2 L278.7,502.0 L280.2,502.9 L281.7,503.7 L283.2,504.6 L284.7,505.5 L286.2,506.3 L287.7,507.1 L289.2,508.0 L290.7,508.8 L292.2,509.6 L293.7,510.5 L295.2,511.4 L296.7,512.4 L298.2,513.4 L299.7,514.5 L301.2,515.6 L302.7,516.8 L304.2,518.0 L305.7,519.3 L307.2,520.5 L308.7,521.9 L310.2,523.2 L311.7,524.6 L313.2,525.9 L314.7,527.3 L316.2,528.7 L317.7,530.1 L319.2,531.4 L320.7,532.8 L322.2,534.1 L323.7,535.4 L325.2,536.7 L326.7,538.0 L328.2,539.3 L329.7,540.6 L331.2,541.9 L332.7,543.2 L334.2,544.6 L335.7,546.0 L337.2,547.5 L338.7,548.9 L340.2,550.5 L341.7,552.0 L343.3,553.6 L344.8,555.2 L346.3,556.9 L347.8,558.5 L349.3,560.2 L350.8,561.9 L352.3,563.6 L353.8,565.3 L355.3,567.1 L356.8,568.8 L358.3,570.5 L359.8,572.3 L361.3,574.0 L362.8,575.7 L364.3,577.4 L365.8,579.1 L367.3,580.8 L368.8,582.4 L370.3,584.0 L371.8,585.6 L373.3,587.2 L374.8,588.7 L376.3,590.2 L377.8,591.7 L379.3,593.2 L380.8,594.6 L382.3,596.1 L383.8,597.5 L385.3,599.0 L386.8,600.4 L388.3,601.9 L389.8,603.3 L391.3,604.8 L392.8,606.3 L394.3,607.9 L395.8,609.4 L397.3,611.0 L398.8,612.6 L400.3,614.2 L401.8,615.8 L403.3,617.4 L404.8,619.1 L406.3,620.7 L407.8,622.3 L409.3,623.8 L410.8,625.4 L412.3,627.0 L413.8,628.5 L415.3,630.1 L416.8,631.6 L418.3,633.2 L419.8,634.7 L421.3,636.2 L422.8,637.7 L424.3,639.1 L425.8,640.6 L427.3,642.0 L428.8,643.4 L430.3,644.8 L431.8,646.2 L433.3,647.6 L434.8,648.9 L436.3,650.3 L437.8,651.6 L439.3,652.8 L440.8,654.1 L442.3,655.3 L443.8,656.6 L445.3,657.8 L446.8,658.9 L448.3,660.1 L449.8,661.2 L451.3,662.3 L452.8,663.4 L454.3,664.5 L455.8,665.5 L457.3,666.6 L458.8,667.6 L460.3,668.6 L461.9,669.6 L463.4,670.6 L464.9,671.6 L466.4,672.6 L467.9,673.6 L469.4,674.6 L470.9,675.5 L472.4,676.5 L473.9,677.5 L475.4,678.4 L476.9,679.4 L478.4,680.4 L479.9,681.3 L481.4,682.3 L482.9,683.3 L484.4,684.3 L485.9,685.2 L487.4,686.2 L488.9,687.2 L490.4,688.1 L491.9,689.1 L493.4,690.0 L494.9,690.9 L496.4,691.8 L497.9,692.7 L499.4,693.6 L500.9,694.4 L502.4,695.3 L503.9,696.1 L505.4,696.9 L506.9,697.6 L508.4,698.3 L509.9,699.0 L511.4,699.7 L512.9,700.3 L514.4,700.9 L515.9,701.4 L517.4,702.0 L518.9,702.5 L520.4,703.0 L521.9,703.4 L523.4,703.8 L524.9,704.2 L526.4,704.6 L527.9,705.0 L529.4,705.3 L530.9,705.7 L532.4,706.0 L533.9,706.3 L535.4,706.6 L536.9,706.9 L538.4,707.2 L539.9,707.4 L541.4,707.7 L542.9,707.9 L544.4,708.2 L545.9,708.4 L547.4,708.7 L548.9,708.9 L550.4,709.2 L551.9,709.4 L553.4,709.7 L554.9,710.0 L556.4,710.2 L557.9,710.5 L559.4,710.7 L560.9,711.0 L562.4,711.2 L563.9,711.5 L565.4,711.7 L566.9,712.0 L568.4,712.2 L569.9,712.5 L571.4,712.7 L572.9,713.0 L574.4,713.2 L575.9,713.5 L577.4,713.7 L578.9,714.0 L580.5,714.2 L582.0,714.4 L583.5,714.7 L585.0,714.9 L586.5,715.1 L588.0,715.4 L589.5,715.6 L591.0,715.8 L592.5,716.0 L594.0,716.2 L595.5,716.4 L597.0,716.6 L598.5,716.8 L600.0,717.0 L601.5,717.2 L603.0,717.4 L604.5,717.5 L606.0,717.7 L607.5,717.9 L609.0,718.0 L610.5,718.2 L612.0,718.3 L613.5,718.5 L615.0,718.6 L616.5,718.7 L618.0,718.9 L619.5,719.0 L621.0,719.1 L622.5,719.2 L624.0,719.3 L625.5,719.3 L627.0,719.4 L628.5,719.5 L630.0,719.5 L631.5,719.6 L633.0,719.6 L634.5,719.7 L636.0,719.7 L637.5,719.7 L639.0,719.7" fill="none" stroke="#4F81BD" stroke-width="6.2" stroke-linecap="round" stroke-linejoin="round" clip-path="url(#cb)"/>
<path d="M46.0,729.6 L47.5,729.4 L49.0,729.2 L50.5,729.0 L52.0,728.8 L53.5,728.7 L55.0,728.5 L56.5,728.3 L58.0,728.1 L59.5,727.9 L61.0,727.7 L62.5,727.5 L64.0,727.3 L65.5,727.1 L67.0,726.8 L68.5,726.6 L70.0,726.3 L71.5,726.0 L73.0,725.7 L74.5,725.4 L76.0,725.1 L77.5,724.7 L79.0,724.3 L80.5,723.9 L82.0,723.4 L83.5,723.0 L85.0,722.5 L86.5,721.9 L88.0,721.4 L89.5,720.8 L91.0,720.1 L92.5,719.4 L94.0,718.7 L95.5,718.0 L97.0,717.2 L98.5,716.3 L100.0,715.5 L101.5,714.5 L103.0,713.6 L104.5,712.5 L106.1,711.5 L107.6,710.3 L109.1,709.2 L110.6,707.9 L112.1,706.6 L113.6,705.3 L115.1,703.9 L116.6,702.4 L118.1,700.9 L119.6,699.3 L121.1,697.6 L122.6,695.9 L124.1,694.1 L125.6,692.3 L127.1,690.4 L128.6,688.4 L130.1,686.3 L131.6,684.1 L133.1,681.9 L134.6,679.6 L136.1,677.2 L137.6,674.8 L139.1,672.3 L140.6,669.8 L142.1,667.2 L143.6,664.5 L145.1,661.8 L146.6,659.0 L148.1,656.2 L149.6,653.4 L151.1,650.5 L152.6,647.6 L154.1,644.7 L155.6,641.8 L157.1,638.8 L158.6,635.8 L160.1,632.8 L161.6,629.8 L163.1,626.8 L164.6,623.8 L166.1,620.7 L167.6,617.7 L169.1,614.7 L170.6,611.7 L172.1,608.7 L173.6,605.8 L175.1,602.8 L176.6,599.9 L178.1,597.0 L179.6,594.1 L181.1,591.2 L182.6,588.4 L184.1,585.6 L185.6,582.8 L187.1,580.0 L188.6,577.3 L190.1,574.7 L191.6,572.0 L193.1,569.4 L194.6,566.9 L196.1,564.4 L197.6,561.9 L199.1,559.5 L200.6,557.2 L202.1,554.9 L203.6,552.6 L205.1,550.4 L206.6,548.3 L208.1,546.2 L209.6,544.1 L211.1,542.1 L212.6,540.1 L214.1,538.1 L215.6,536.3 L217.1,534.6 L218.6,533.0 L220.1,531.5 L221.6,530.3 L223.1,529.1 L224.7,528.1 L226.2,527.3 L227.7,526.5 L229.2,525.7 L230.7,525.1 L232.2,524.4 L233.7,523.9 L235.2,523.3 L236.7,522.9 L238.2,522.5 L239.7,522.1 L241.2,521.8 L242.7,521.5 L244.2,521.4 L245.7,521.2 L247.2,521.1 L248.7,521.1 L250.2,521.2 L251.7,521.3 L253.2,521.4 L254.7,521.6 L256.2,521.9 L257.7,522.3 L259.2,522.6 L260.7,523.1 L262.2,523.6 L263.7,524.1 L265.2,524.6 L266.7,525.3 L268.2,525.9 L269.7,526.6 L271.2,527.3 L272.7,528.0 L274.2,528.8 L275.7,529.6 L277.2,530.4 L278.7,531.2 L280.2,532.1 L281.7,532.9 L283.2,533.8 L284.7,534.7 L286.2,535.6 L287.7,536.5 L289.2,537.4 L290.7,538.3 L292.2,539.2 L293.7,540.1 L295.2,541.1 L296.7,542.0 L298.2,543.0 L299.7,544.0 L301.2,544.9 L302.7,545.9 L304.2,546.9 L305.7,547.9 L307.2,549.0 L308.7,550.0 L310.2,551.0 L311.7,552.1 L313.2,553.2 L314.7,554.3 L316.2,555.4 L317.7,556.5 L319.2,557.6 L320.7,558.7 L322.2,559.8 L323.7,561.0 L325.2,562.1 L326.7,563.3 L328.2,564.5 L329.7,565.6 L331.2,566.8 L332.7,568.0 L334.2,569.2 L335.7,570.4 L337.2,571.6 L338.7,572.8 L340.2,574.1 L341.7,575.3 L343.3,576.5 L344.8,577.8 L346.3,579.1 L347.8,580.4 L349.3,581.6 L350.8,582.9 L352.3,584.3 L353.8,585.6 L355.3,586.9 L356.8,588.2 L358.3,589.6 L359.8,591.0 L361.3,592.3 L362.8,593.7 L364.3,595.1 L365.8,596.5 L367.3,597.9 L368.8,599.4 L370.3,600.8 L371.8,602.2 L373.3,603.6 L374.8,605.0 L376.3,606.5 L377.8,607.9 L379.3,609.3 L380.8,610.7 L382.3,612.1 L383.8,613.5 L385.3,614.9 L386.8,616.3 L388.3,617.7 L389.8,619.0 L391.3,620.4 L392.8,621.7 L394.3,623.0 L395.8,624.3 L397.3,625.6 L398.8,626.8 L400.3,628.1 L401.8,629.3 L403.3,630.5 L404.8,631.7 L406.3,633.0 L407.8,634.1 L409.3,635.3 L410.8,636.5 L412.3,637.7 L413.8,638.9 L415.3,640.0 L416.8,641.2 L418.3,642.3 L419.8,643.5 L421.3,644.6 L422.8,645.8 L424.3,646.9 L425.8,648.1 L427.3,649.2 L428.8,650.4 L430.3,651.5 L431.8,652.7 L433.3,653.9 L434.8,655.0 L436.3,656.2 L437.8,657.4 L439.3,658.5 L440.8,659.7 L442.3,660.9 L443.8,662.0 L445.3,663.2 L446.8,664.4 L448.3,665.5 L449.8,666.7 L451.3,667.8 L452.8,669.0 L454.3,670.1 L455.8,671.3 L457.3,672.4 L458.8,673.5 L460.3,674.6 L461.9,675.8 L463.4,676.9 L464.9,677.9 L466.4,679.0 L467.9,680.1 L469.4,681.1 L470.9,682.2 L472.4,683.2 L473.9,684.2 L475.4,685.1 L476.9,686.1 L478.4,687.1 L479.9,688.0 L481.4,688.9 L482.9,689.8 L484.4,690.7 L485.9,691.5 L487.4,692.3 L488.9,693.2 L490.4,694.0 L491.9,694.7 L493.4,695.5 L494.9,696.2 L496.4,697.0 L497.9,697.7 L499.4,698.4 L500.9,699.0 L502.4,699.7 L503.9,700.3 L505.4,700.9 L506.9,701.5 L508.4,702.1 L509.9,702.6 L511.4,703.1 L512.9,703.6 L514.4,704.1 L515.9,704.6 L517.4,705.1 L518.9,705.5 L520.4,705.9 L521.9,706.3 L523.4,706.7 L524.9,707.1 L526.4,707.5 L527.9,707.8 L529.4,708.2 L530.9,708.5 L532.4,708.8 L533.9,709.1 L535.4,709.5 L536.9,709.7 L538.4,710.0 L539.9,710.3 L541.4,710.6 L542.9,710.9 L544.4,711.1 L545.9,711.4 L547.4,711.6 L548.9,711.9 L550.4,712.1 L551.9,712.4 L553.4,712.6 L554.9,712.9 L556.4,713.1 L557.9,713.4 L559.4,713.6 L560.9,713.8 L562.4,714.1 L563.9,714.3 L565.4,714.5 L566.9,714.7 L568.4,715.0 L569.9,715.2 L571.4,715.4 L572.9,715.6 L574.4,715.8 L575.9,716.0 L577.4,716.2 L578.9,716.4 L580.5,716.6 L582.0,716.8 L583.5,717.0 L585.0,717.2 L586.5,717.4 L588.0,717.6 L589.5,717.8 L591.0,717.9 L592.5,718.1 L594.0,718.3 L595.5,718.4 L597.0,718.6 L598.5,718.8 L600.0,718.9 L601.5,719.1 L603.0,719.2 L604.5,719.4 L606.0,719.5 L607.5,719.7 L609.0,719.8 L610.5,720.0 L612.0,720.1 L613.5,720.2 L615.0,720.4 L616.5,720.5 L618.0,720.6 L619.5,720.7 L621.0,720.9 L622.5,721.0 L624.0,721.1 L625.5,721.2 L627.0,721.3 L628.5,721.4 L630.0,721.5 L631.5,721.6 L633.0,721.7 L634.5,721.8 L636.0,721.9 L637.5,721.9 L639.0,722.0" fill="none" stroke="#9BBB59" stroke-width="6.2" stroke-linecap="round" stroke-linejoin="round" clip-path="url(#cb)"/>
<path d="M46.0,731.5 L47.5,731.4 L49.0,731.3 L50.5,731.2 L52.0,731.1 L53.5,731.0 L55.0,730.9 L56.5,730.9 L58.0,730.8 L59.5,730.8 L61.0,730.7 L62.5,730.7 L64.0,730.6 L65.5,730.6 L67.0,730.5 L68.5,730.4 L70.0,730.4 L71.5,730.3 L73.0,730.2 L74.5,730.1 L76.0,729.9 L77.5,729.8 L79.0,729.6 L80.5,729.4 L82.0,729.2 L83.5,729.0 L85.0,728.7 L86.5,728.4 L88.0,728.1 L89.5,727.8 L91.0,727.4 L92.5,727.0 L94.0,726.5 L95.5,726.0 L97.0,725.5 L98.5,724.9 L100.0,724.3 L101.5,723.7 L103.0,723.0 L104.5,722.2 L106.1,721.4 L107.6,720.6 L109.1,719.7 L110.6,718.7 L112.1,717.7 L113.6,716.7 L115.1,715.6 L116.6,714.5 L118.1,713.4 L119.6,712.3 L121.1,711.1 L122.6,709.9 L124.1,708.7 L125.6,707.5 L127.1,706.3 L128.6,705.1 L130.1,703.9 L131.6,702.7 L133.1,701.6 L134.6,700.4 L136.1,699.2 L137.6,698.0 L139.1,696.7 L140.6,695.3 L142.1,693.9 L143.6,692.4 L145.1,690.8 L146.6,689.0 L148.1,687.1 L149.6,685.1 L151.1,683.0 L152.6,680.8 L154.1,678.5 L155.6,676.1 L157.1,673.7 L158.6,671.1 L160.1,668.5 L161.6,665.8 L163.1,663.0 L164.6,660.2 L166.1,657.4 L167.6,654.4 L169.1,651.5 L170.6,648.5 L172.1,645.5 L173.6,642.5 L175.1,639.4 L176.6,636.4 L178.1,633.3 L179.6,630.3 L181.1,627.2 L182.6,624.2 L184.1,621.2 L185.6,618.2 L187.1,615.2 L188.6,612.3 L190.1,609.3 L191.6,606.5 L193.1,603.6 L194.6,600.8 L196.1,598.0 L197.6,595.3 L199.1,592.6 L200.6,589.9 L202.1,587.3 L203.6,584.8 L205.1,582.3 L206.6,579.9 L208.1,577.7 L209.6,575.5 L211.1,573.5 L212.6,571.5 L214.1,569.7 L215.6,567.9 L217.1,566.2 L218.6,564.6 L220.1,563.1 L221.6,561.7 L223.1,560.3 L224.7,559.0 L226.2,557.8 L227.7,556.6 L229.2,555.5 L230.7,554.5 L232.2,553.5 L233.7,552.6 L235.2,551.8 L236.7,551.0 L238.2,550.2 L239.7,549.6 L241.2,548.9 L242.7,548.3 L244.2,547.8 L245.7,547.4 L247.2,546.9 L248.7,546.6 L250.2,546.3 L251.7,546.0 L253.2,545.8 L254.7,545.6 L256.2,545.5 L257.7,545.4 L259.2,545.3 L260.7,545.3 L262.2,545.3 L263.7,545.4 L265.2,545.4 L266.7,545.5 L268.2,545.6 L269.7,545.7 L271.2,545.9 L272.7,546.0 L274.2,546.2 L275.7,546.3 L277.2,546.5 L278.7,546.6 L280.2,546.8 L281.7,546.9 L283.2,547.1 L284.7,547.4 L286.2,547.8 L287.7,548.2 L289.2,548.6 L290.7,549.2 L292.2,549.8 L293.7,550.4 L295.2,551.1 L296.7,551.9 L298.2,552.6 L299.7,553.4 L301.2,554.2 L302.7,555.0 L304.2,555.9 L305.7,556.7 L307.2,557.5 L308.7,558.4 L310.2,559.2 L311.7,560.0 L313.2,560.8 L314.7,561.5 L316.2,562.3 L317.7,563.0 L319.2,563.8 L320.7,564.5 L322.2,565.3 L323.7,566.1 L325.2,566.8 L326.7,567.7 L328.2,568.5 L329.7,569.3 L331.2,570.2 L332.7,571.1 L334.2,572.1 L335.7,573.1 L337.2,574.1 L338.7,575.2 L340.2,576.2 L341.7,577.3 L343.3,578.4 L344.8,579.4 L346.3,580.4 L347.8,581.4 L349.3,582.3 L350.8,583.2 L352.3,584.0 L353.8,584.8 L355.3,585.6 L356.8,586.3 L358.3,587.1 L359.8,587.9 L361.3,588.6 L362.8,589.4 L364.3,590.3 L365.8,591.2 L367.3,592.1 L368.8,593.1 L370.3,594.2 L371.8,595.4 L373.3,596.7 L374.8,598.0 L376.3,599.4 L377.8,600.9 L379.3,602.4 L380.8,603.8 L382.3,605.3 L383.8,606.6 L385.3,607.9 L386.8,609.2 L388.3,610.4 L389.8,611.6 L391.3,612.7 L392.8,613.9 L394.3,615.0 L395.8,616.1 L397.3,617.2 L398.8,618.3 L400.3,619.4 L401.8,620.5 L403.3,621.7 L404.8,622.9 L406.3,624.1 L407.8,625.4 L409.3,626.7 L410.8,628.1 L412.3,629.4 L413.8,630.8 L415.3,632.2 L416.8,633.5 L418.3,634.9 L419.8,636.2 L421.3,637.6 L422.8,638.9 L424.3,640.2 L425.8,641.5 L427.3,642.7 L428.8,644.0 L430.3,645.3 L431.8,646.5 L433.3,647.7 L434.8,649.0 L436.3,650.2 L437.8,651.4 L439.3,652.6 L440.8,653.8 L442.3,655.0 L443.8,656.2 L445.3,657.4 L446.8,658.5 L448.3,659.7 L449.8,660.9 L451.3,662.0 L452.8,663.2 L454.3,664.3 L455.8,665.5 L457.3,666.6 L458.8,667.7 L460.3,668.8 L461.9,669.9 L463.4,671.0 L464.9,672.1 L466.4,673.2 L467.9,674.3 L469.4,675.3 L470.9,676.4 L472.4,677.4 L473.9,678.4 L475.4,679.4 L476.9,680.4 L478.4,681.4 L479.9,682.4 L481.4,683.3 L482.9,684.3 L484.4,685.2 L485.9,686.2 L487.4,687.1 L488.9,688.0 L490.4,688.8 L491.9,689.7 L493.4,690.5 L494.9,691.4 L496.4,692.2 L497.9,693.0 L499.4,693.8 L500.9,694.5 L502.4,695.3 L503.9,696.0 L505.4,696.7 L506.9,697.4 L508.4,698.1 L509.9,698.8 L511.4,699.4 L512.9,700.0 L514.4,700.7 L515.9,701.2 L517.4,701.8 L518.9,702.3 L520.4,702.9 L521.9,703.4 L523.4,703.8 L524.9,704.3 L526.4,704.7 L527.9,705.2 L529.4,705.6 L530.9,705.9 L532.4,706.3 L533.9,706.7 L535.4,707.0 L536.9,707.3 L538.4,707.6 L539.9,707.9 L541.4,708.2 L542.9,708.5 L544.4,708.8 L545.9,709.0 L547.4,709.3 L548.9,709.6 L550.4,709.8 L551.9,710.1 L553.4,710.3 L554.9,710.5 L556.4,710.8 L557.9,711.0 L559.4,711.3 L560.9,711.5 L562.4,711.8 L563.9,712.0 L565.4,712.3 L566.9,712.5 L568.4,712.8 L569.9,713.0 L571.4,713.3 L572.9,713.5 L574.4,713.8 L575.9,714.1 L577.4,714.3 L578.9,714.6 L580.5,714.8 L582.0,715.1 L583.5,715.3 L585.0,715.6 L586.5,715.8 L588.0,716.1 L589.5,716.3 L591.0,716.5 L592.5,716.8 L594.0,717.0 L595.5,717.2 L597.0,717.4 L598.5,717.7 L600.0,717.9 L601.5,718.1 L603.0,718.3 L604.5,718.5 L606.0,718.7 L607.5,718.8 L609.0,719.0 L610.5,719.2 L612.0,719.3 L613.5,719.5 L615.0,719.6 L616.5,719.8 L618.0,719.9 L619.5,720.0 L621.0,720.1 L622.5,720.2 L624.0,720.3 L625.5,720.4 L627.0,720.4 L628.5,720.5 L630.0,720.5 L631.5,720.5 L633.0,720.6 L634.5,720.6 L636.0,720.6 L637.5,720.5 L639.0,720.5" fill="none" stroke="#8064A2" stroke-width="6.2" stroke-linecap="round" stroke-linejoin="round" clip-path="url(#cb)"/>
<path d="M46.0,730.4 L47.5,730.3 L49.0,730.2 L50.5,730.1 L52.0,730.0 L53.5,729.9 L55.0,729.8 L56.5,729.7 L58.0,729.6 L59.5,729.4 L61.0,729.3 L62.5,729.1 L64.0,729.0 L65.5,728.8 L67.0,728.6 L68.5,728.4 L70.0,728.2 L71.5,727.9 L73.0,727.7 L74.5,727.4 L76.0,727.1 L77.5,726.9 L79.0,726.5 L80.5,726.2 L82.0,725.9 L83.5,725.5 L85.0,725.2 L86.5,724.8 L88.0,724.4 L89.5,723.9 L91.0,723.5 L92.5,723.0 L94.0,722.5 L95.5,722.0 L97.0,721.5 L98.5,721.0 L100.0,720.4 L101.5,719.8 L103.0,719.2 L104.5,718.6 L106.1,717.9 L107.6,717.2 L109.1,716.5 L110.6,715.8 L112.1,715.1 L113.6,714.3 L115.1,713.5 L116.6,712.7 L118.1,711.8 L119.6,710.9 L121.1,710.0 L122.6,709.1 L124.1,708.1 L125.6,707.1 L127.1,706.1 L128.6,705.1 L130.1,704.1 L131.6,703.0 L133.1,701.9 L134.6,700.8 L136.1,699.6 L137.6,698.5 L139.1,697.3 L140.6,696.1 L142.1,694.9 L143.6,693.7 L145.1,692.5 L146.6,691.3 L148.1,690.0 L149.6,688.7 L151.1,687.4 L152.6,686.2 L154.1,684.9 L155.6,683.5 L157.1,682.2 L158.6,680.9 L160.1,679.6 L161.6,678.2 L163.1,676.9 L164.6,675.5 L166.1,674.2 L167.6,672.8 L169.1,671.5 L170.6,670.1 L172.1,668.8 L173.6,667.4 L175.1,666.1 L176.6,664.7 L178.1,663.4 L179.6,662.0 L181.1,660.7 L182.6,659.3 L184.1,658.0 L185.6,656.7 L187.1,655.4 L188.6,654.1 L190.1,652.8 L191.6,651.5 L193.1,650.3 L194.6,649.1 L196.1,647.8 L197.6,646.6 L199.1,645.5 L200.6,644.3 L202.1,643.2 L203.6,642.1 L205.1,641.0 L206.6,639.9 L208.1,638.9 L209.6,637.9 L211.1,637.0 L212.6,636.1 L214.1,635.2 L215.6,634.3 L217.1,633.5 L218.6,632.7 L220.1,631.9 L221.6,631.2 L223.1,630.5 L224.7,629.9 L226.2,629.3 L227.7,628.7 L229.2,628.1 L230.7,627.6 L232.2,627.1 L233.7,626.7 L235.2,626.2 L236.7,625.8 L238.2,625.5 L239.7,625.2 L241.2,624.9 L242.7,624.6 L244.2,624.4 L245.7,624.2 L247.2,624.0 L248.7,623.9 L250.2,623.8 L251.7,623.7 L253.2,623.6 L254.7,623.6 L256.2,623.7 L257.7,623.7 L259.2,623.8 L260.7,623.9 L262.2,624.0 L263.7,624.1 L265.2,624.3 L266.7,624.5 L268.2,624.7 L269.7,625.0 L271.2,625.2 L272.7,625.5 L274.2,625.8 L275.7,626.1 L277.2,626.5 L278.7,626.8 L280.2,627.2 L281.7,627.6 L283.2,628.0 L284.7,628.5 L286.2,628.9 L287.7,629.3 L289.2,629.8 L290.7,630.3 L292.2,630.8 L293.7,631.3 L295.2,631.8 L296.7,632.3 L298.2,632.8 L299.7,633.4 L301.2,633.9 L302.7,634.4 L304.2,635.0 L305.7,635.5 L307.2,636.1 L308.7,636.7 L310.2,637.2 L311.7,637.8 L313.2,638.4 L314.7,638.9 L316.2,639.5 L317.7,640.1 L319.2,640.7 L320.7,641.3 L322.2,641.9 L323.7,642.4 L325.2,643.0 L326.7,643.6 L328.2,644.2 L329.7,644.8 L331.2,645.4 L332.7,646.0 L334.2,646.6 L335.7,647.2 L337.2,647.8 L338.7,648.5 L340.2,649.1 L341.7,649.7 L343.3,650.3 L344.8,650.9 L346.3,651.5 L347.8,652.1 L349.3,652.8 L350.8,653.4 L352.3,654.0 L353.8,654.6 L355.3,655.3 L356.8,655.9 L358.3,656.5 L359.8,657.1 L361.3,657.8 L362.8,658.4 L364.3,659.0 L365.8,659.7 L367.3,660.3 L368.8,660.9 L370.3,661.6 L371.8,662.2 L373.3,662.8 L374.8,663.5 L376.3,664.1 L377.8,664.7 L379.3,665.4 L380.8,666.0 L382.3,666.6 L383.8,667.3 L385.3,667.9 L386.8,668.5 L388.3,669.2 L389.8,669.8 L391.3,670.4 L392.8,671.1 L394.3,671.7 L395.8,672.3 L397.3,673.0 L398.8,673.6 L400.3,674.2 L401.8,674.9 L403.3,675.5 L404.8,676.1 L406.3,676.7 L407.8,677.4 L409.3,678.0 L410.8,678.6 L412.3,679.2 L413.8,679.9 L415.3,680.5 L416.8,681.1 L418.3,681.7 L419.8,682.3 L421.3,683.0 L422.8,683.6 L424.3,684.2 L425.8,684.8 L427.3,685.4 L428.8,686.0 L430.3,686.6 L431.8,687.2 L433.3,687.8 L434.8,688.4 L436.3,689.0 L437.8,689.6 L439.3,690.2 L440.8,690.8 L442.3,691.3 L443.8,691.9 L445.3,692.5 L446.8,693.1 L448.3,693.7 L449.8,694.2 L451.3,694.8 L452.8,695.4 L454.3,695.9 L455.8,696.5 L457.3,697.0 L458.8,697.6 L460.3,698.1 L461.9,698.7 L463.4,699.2 L464.9,699.8 L466.4,700.3 L467.9,700.8 L469.4,701.3 L470.9,701.9 L472.4,702.4 L473.9,702.9 L475.4,703.4 L476.9,703.9 L478.4,704.4 L479.9,704.8 L481.4,705.3 L482.9,705.8 L484.4,706.3 L485.9,706.7 L487.4,707.2 L488.9,707.6 L490.4,708.1 L491.9,708.5 L493.4,708.9 L494.9,709.3 L496.4,709.8 L497.9,710.2 L499.4,710.6 L500.9,711.0 L502.4,711.3 L503.9,711.7 L505.4,712.1 L506.9,712.5 L508.4,712.8 L509.9,713.2 L511.4,713.5 L512.9,713.8 L514.4,714.2 L515.9,714.5 L517.4,714.8 L518.9,715.1 L520.4,715.4 L521.9,715.7 L523.4,715.9 L524.9,716.2 L526.4,716.5 L527.9,716.7 L529.4,716.9 L530.9,717.2 L532.4,717.4 L533.9,717.6 L535.4,717.8 L536.9,718.0 L538.4,718.2 L539.9,718.4 L541.4,718.6 L542.9,718.8 L544.4,719.0 L545.9,719.1 L547.4,719.3 L548.9,719.4 L550.4,719.6 L551.9,719.7 L553.4,719.9 L554.9,720.0 L556.4,720.1 L557.9,720.2 L559.4,720.4 L560.9,720.5 L562.4,720.6 L563.9,720.7 L565.4,720.8 L566.9,720.9 L568.4,721.0 L569.9,721.1 L571.4,721.2 L572.9,721.2 L574.4,721.3 L575.9,721.4 L577.4,721.5 L578.9,721.6 L580.5,721.6 L582.0,721.7 L583.5,721.8 L585.0,721.9 L586.5,721.9 L588.0,722.0 L589.5,722.1 L591.0,722.1 L592.5,722.2 L594.0,722.3 L595.5,722.3 L597.0,722.4 L598.5,722.5 L600.0,722.5 L601.5,722.6 L603.0,722.7 L604.5,722.7 L606.0,722.8 L607.5,722.9 L609.0,723.0 L610.5,723.0 L612.0,723.1 L613.5,723.2 L615.0,723.3 L616.5,723.4 L618.0,723.4 L619.5,723.5 L621.0,723.6 L622.5,723.7 L624.0,723.8 L625.5,723.9 L627.0,724.0 L628.5,724.1 L630.0,724.3 L631.5,724.4 L633.0,724.5 L634.5,724.6 L636.0,724.8 L637.5,724.9 L639.0,725.0" fill="none" stroke="#C0504D" stroke-width="6.2" stroke-linecap="round" stroke-linejoin="round" clip-path="url(#cb)"/>
<text x="46.0" y="758.2" font-size="15.5" text-anchor="middle" textLength="31.0" lengthAdjust="spacingAndGlyphs" fill="#222">450</text>
<text x="144.8" y="758.2" font-size="15.5" text-anchor="middle" textLength="31.0" lengthAdjust="spacingAndGlyphs" fill="#222">500</text>
<text x="243.5" y="758.2" font-size="15.5" text-anchor="middle" textLength="31.0" lengthAdjust="spacingAndGlyphs" fill="#222">550</text>
<text x="342.2" y="758.2" font-size="15.5" text-anchor="middle" textLength="31.0" lengthAdjust="spacingAndGlyphs" fill="#222">600</text>
<text x="441.0" y="758.2" font-size="15.5" text-anchor="middle" textLength="31.0" lengthAdjust="spacingAndGlyphs" fill="#222">650</text>
<text x="539.8" y="758.2" font-size="15.5" text-anchor="middle" textLength="31.0" lengthAdjust="spacingAndGlyphs" fill="#222">700</text>
<text x="638.5" y="758.2" font-size="15.5" text-anchor="middle" textLength="31.0" lengthAdjust="spacingAndGlyphs" fill="#222">750</text>
<text x="266.8" y="798.8" font-size="18.0" font-weight="bold" textLength="167.0" lengthAdjust="spacingAndGlyphs">Wavelength (nm)</text>
<text x="27.8" y="689.2" font-size="22.3" font-weight="bold" textLength="144.0" lengthAdjust="spacingAndGlyphs" transform="rotate(-90 27.8 689.2)">Intensity (a.u.)</text>
<path d="M683.2,587.2 H722.7" stroke="#4F81BD" stroke-width="5.2" stroke-linecap="round"/>
<text x="726.3" y="592.8" font-size="16.2" textLength="61.0" lengthAdjust="spacingAndGlyphs" fill="#222">300 nm</text>
<path d="M683.2,617.3 H722.7" stroke="#9BBB59" stroke-width="5.2" stroke-linecap="round"/>
<text x="726.3" y="622.9" font-size="16.2" textLength="61.0" lengthAdjust="spacingAndGlyphs" fill="#222">330 nm</text>
<path d="M683.2,648.2 H722.7" stroke="#8064A2" stroke-width="5.2" stroke-linecap="round"/>
<text x="726.3" y="653.8" font-size="16.2" textLength="61.0" lengthAdjust="spacingAndGlyphs" fill="#222">350 nm</text>
<path d="M683.2,678.6 H722.7" stroke="#C0504D" stroke-width="5.2" stroke-linecap="round"/>
<text x="726.3" y="684.2" font-size="16.2" textLength="61.0" lengthAdjust="spacingAndGlyphs" fill="#222">380 nm</text>
<text x="293.6" y="882.4" font-size="22.0" font-weight="bold" textLength="24.6" lengthAdjust="spacingAndGlyphs">(c)</text>
<path d="M44.5,899.5 H569 V1108" fill="none" stroke="#000" stroke-width="1.6"/>
<path d="M45,899 V1108.5 M39,1108.3 H569" fill="none" stroke="#7b7b7b" stroke-width="1.4"/>
<path d="M39,899.8 H45" stroke="#7b7b7b" stroke-width="1.3"/>
<path d="M39,953.0 H45" stroke="#7b7b7b" stroke-width="1.3"/>
<path d="M39,1004.8 H45" stroke="#7b7b7b" stroke-width="1.3"/>
<path d="M39,1056.5 H45" stroke="#7b7b7b" stroke-width="1.3"/>
<path d="M150.7,1107.9 L152.2,1107.8 L153.7,1107.7 L155.2,1107.6 L156.7,1107.6 L158.2,1107.5 L159.7,1107.5 L161.2,1107.4 L162.7,1107.4 L164.2,1107.3 L165.7,1107.3 L167.2,1107.3 L168.7,1107.3 L170.2,1107.2 L171.7,1107.2 L173.2,1107.2 L174.7,1107.2 L176.2,1107.2 L177.7,1107.2 L179.2,1107.2 L180.7,1107.2 L182.2,1107.2 L183.7,1107.2 L185.2,1107.2 L186.7,1107.2 L188.2,1107.3 L189.7,1107.3 L191.2,1107.3 L192.7,1107.3 L194.2,1107.4 L195.7,1107.4 L197.2,1107.4 L198.7,1107.4 L200.2,1107.5 L201.7,1107.5 L203.2,1107.6 L204.7,1107.6 L206.3,1107.6 L207.8,1107.7 L209.3,1107.7 L210.8,1107.7 L212.3,1107.8 L213.8,1107.8 L215.3,1107.9 L216.8,1107.9 L218.3,1107.9 L219.8,1108.0 L221.3,1108.0 L222.8,1108.1 L224.3,1108.1 L225.8,1108.1 L227.3,1108.2 L228.8,1108.2 L230.3,1108.2 L231.8,1108.3 L233.3,1108.3 L234.8,1108.3 L236.3,1108.4 L237.8,1108.4 L239.3,1108.4 L240.8,1108.4 L242.3,1108.5 L243.8,1108.5 L245.3,1108.5 L246.8,1108.5 L248.3,1108.5 L249.8,1108.5 L251.3,1108.5 L252.8,1108.5 L254.3,1108.5 L255.8,1108.5 L257.3,1108.5 L258.8,1108.5 L260.3,1108.4 L261.8,1108.4 L263.3,1108.4 L264.8,1108.3 L266.3,1108.3 L267.8,1108.3 L269.3,1108.2 L270.8,1108.2 L272.3,1108.1 L273.8,1108.0 L275.3,1108.0 L276.8,1107.9 L278.3,1107.8 L279.8,1107.7 L281.3,1107.6 L282.8,1107.5 L284.3,1107.4 L285.8,1107.3 L287.3,1107.2 L288.8,1107.1 L290.3,1106.9 L291.8,1106.8 L293.3,1106.6 L294.8,1106.4 L296.3,1106.2 L297.8,1106.0 L299.3,1105.8 L300.8,1105.5 L302.3,1105.3 L303.8,1105.0 L305.3,1104.7 L306.8,1104.4 L308.3,1104.1 L309.8,1103.8 L311.3,1103.4 L312.8,1103.0 L314.3,1102.6 L315.9,1102.2 L317.4,1101.8 L318.9,1101.4 L320.4,1101.0 L321.9,1100.5 L323.4,1100.1 L324.9,1099.7 L326.4,1099.2 L327.9,1098.8 L329.4,1098.4 L330.9,1098.0 L332.4,1097.6 L333.9,1097.2 L335.4,1096.8 L336.9,1096.5 L338.4,1096.1 L339.9,1095.8 L341.4,1095.5 L342.9,1095.2 L344.4,1094.9 L345.9,1094.6 L347.4,1094.3 L348.9,1094.1 L350.4,1093.9 L351.9,1093.7 L353.4,1093.5 L354.9,1093.3 L356.4,1093.1 L357.9,1093.0 L359.4,1092.8 L360.9,1092.7 L362.4,1092.6 L363.9,1092.6 L365.4,1092.5 L366.9,1092.4 L368.4,1092.4 L369.9,1092.4 L371.4,1092.4 L372.9,1092.4 L374.4,1092.4 L375.9,1092.4 L377.4,1092.5 L378.9,1092.5 L380.4,1092.6 L381.9,1092.7 L383.4,1092.8 L384.9,1092.9 L386.4,1093.0 L387.9,1093.2 L389.4,1093.3 L390.9,1093.4 L392.4,1093.6 L393.9,1093.8 L395.4,1094.0 L396.9,1094.1 L398.4,1094.3 L399.9,1094.5 L401.4,1094.8 L402.9,1095.0 L404.4,1095.2 L405.9,1095.4 L407.4,1095.7 L408.9,1095.9 L410.4,1096.2 L411.9,1096.4 L413.4,1096.7 L414.9,1097.0 L416.4,1097.2 L417.9,1097.5 L419.4,1097.8 L420.9,1098.1 L422.4,1098.4 L423.9,1098.7 L425.4,1098.9 L427.0,1099.2 L428.5,1099.5 L430.0,1099.8 L431.5,1100.1 L433.0,1100.4 L434.5,1100.7 L436.0,1101.0 L437.5,1101.3 L439.0,1101.6 L440.5,1101.9 L442.0,1102.2 L443.5,1102.5 L445.0,1102.8 L446.5,1103.1 L448.0,1103.4 L449.5,1103.7 L451.0,1103.9 L452.5,1104.2 L454.0,1104.5 L455.5,1104.8 L457.0,1105.0 L458.5,1105.3 L460.0,1105.5 L461.5,1105.8 L463.0,1106.0 L464.5,1106.3 L466.0,1106.5 L467.5,1106.7 L469.0,1106.9 L470.5,1107.1 L472.0,1107.3 L473.5,1107.5 L475.0,1107.7 L476.5,1107.9 L478.0,1108.0 L479.5,1108.2 L481.0,1108.3" fill="none" stroke="#4F81BD" stroke-width="7.8" stroke-linecap="round" stroke-linejoin="round" clip-path="url(#cc)"/>
<path d="M150.7,1097.1 L156.3,1104.3 L156.3,1104.4 L157.8,1104.6 L159.3,1104.8 L160.8,1104.9 L162.3,1105.0 L163.8,1105.1 L165.3,1105.1 L166.8,1105.1 L168.3,1105.1 L169.8,1105.0 L171.4,1104.9 L172.9,1104.8 L174.4,1104.6 L175.9,1104.5 L177.4,1104.3 L178.9,1104.1 L180.4,1103.9 L181.9,1103.7 L183.4,1103.5 L184.9,1103.3 L186.4,1103.1 L187.9,1102.9 L189.4,1102.7 L190.9,1102.5 L192.4,1102.3 L193.9,1102.1 L195.4,1101.8 L196.9,1101.5 L198.5,1101.2 L200.0,1100.8 L201.5,1100.3 L203.0,1099.7 L204.5,1099.0 L206.0,1098.1 L207.5,1097.1 L209.0,1096.0 L210.5,1094.7 L212.0,1093.2 L213.5,1091.5 L215.0,1089.5 L216.5,1087.3 L218.0,1084.9 L219.5,1082.3 L221.0,1079.3 L222.5,1076.0 L224.0,1072.5 L225.6,1068.6 L227.1,1064.4 L228.6,1059.8 L230.1,1054.7 L231.6,1049.0 L233.1,1042.6 L234.6,1035.5 L236.1,1028.0 L237.6,1020.8 L239.1,1014.3 L240.6,1008.2 L242.1,1002.5 L243.6,997.1 L245.1,992.0 L246.6,987.2 L248.1,982.6 L249.6,978.2 L251.1,973.9 L252.7,969.8 L254.2,965.9 L255.7,962.1 L257.2,958.4 L258.7,955.0 L260.2,951.7 L261.7,948.7 L263.2,945.9 L264.7,943.4 L266.2,941.0 L267.7,938.9 L269.2,937.0 L270.7,935.3 L272.2,933.7 L273.7,932.4 L275.2,931.2 L276.7,930.2 L278.2,929.3 L279.8,928.5 L281.3,927.9 L282.8,927.3 L284.3,926.9 L285.8,926.6 L287.3,926.5 L288.8,926.8 L290.3,927.5 L291.8,928.6 L293.3,929.9 L294.8,931.6 L296.3,933.3 L297.8,935.2 L299.3,937.3 L300.8,939.6 L302.3,942.0 L303.8,944.5 L305.3,947.3 L306.9,950.2 L308.4,953.3 L309.9,956.5 L311.4,959.9 L312.9,963.5 L314.4,967.2 L315.9,971.1 L317.4,975.0 L318.9,979.0 L320.4,983.1 L321.9,987.3 L323.4,991.4 L324.9,995.6 L326.4,999.7 L327.9,1003.8 L329.4,1007.8 L330.9,1011.8 L332.4,1015.7 L334.0,1019.4 L335.5,1023.1 L337.0,1026.7 L338.5,1030.3 L340.0,1033.7 L341.5,1037.0 L343.0,1040.2 L344.5,1043.3 L346.0,1046.3 L347.5,1049.3 L349.0,1052.1 L350.5,1054.8 L352.0,1057.3 L353.5,1059.8 L355.0,1062.2 L356.5,1064.4 L358.0,1066.5 L359.5,1068.5 L361.1,1070.4 L362.6,1072.2 L364.1,1073.8 L365.6,1075.3 L367.1,1076.7 L368.6,1078.0 L370.1,1079.1 L371.6,1080.1 L373.1,1080.9 L374.6,1081.6 L374.6,1081.6 L376.1,1081.0 L377.6,1079.7 L379.1,1077.7 L380.7,1075.1 L382.2,1071.9 L383.7,1068.2 L385.2,1064.0 L386.7,1059.4 L388.2,1054.4 L389.8,1049.1 L391.3,1043.5 L392.8,1037.7 L394.3,1031.7" fill="none" stroke="#C0504D" stroke-width="8" stroke-linecap="round" stroke-linejoin="round" clip-path="url(#cc)"/>
<text x="46.0" y="1140.1" font-size="18.2" text-anchor="middle" textLength="32.3" lengthAdjust="spacingAndGlyphs">200</text>
<text x="133.2" y="1140.1" font-size="18.2" text-anchor="middle" textLength="32.3" lengthAdjust="spacingAndGlyphs">300</text>
<text x="220.5" y="1140.1" font-size="18.2" text-anchor="middle" textLength="32.3" lengthAdjust="spacingAndGlyphs">400</text>
<text x="307.8" y="1140.1" font-size="18.2" text-anchor="middle" textLength="32.3" lengthAdjust="spacingAndGlyphs">500</text>
<text x="395.0" y="1140.1" font-size="18.2" text-anchor="middle" textLength="32.3" lengthAdjust="spacingAndGlyphs">600</text>
<text x="482.2" y="1140.1" font-size="18.2" text-anchor="middle" textLength="32.3" lengthAdjust="spacingAndGlyphs">700</text>
<text x="569.5" y="1140.1" font-size="18.2" text-anchor="middle" textLength="32.3" lengthAdjust="spacingAndGlyphs">800</text>
<text x="223.8" y="1169.8" font-size="19.4" font-weight="bold" textLength="167.6" lengthAdjust="spacingAndGlyphs">Wavelength (nm)</text>
<text x="27.1" y="1080.2" font-size="19.8" font-weight="bold" textLength="145.0" lengthAdjust="spacingAndGlyphs" transform="rotate(-90 27.1 1080.2)">Intensity&#160;&#160;(a.u.)</text>
<path d="M621.2,999.5 H660.9" stroke="#4F81BD" stroke-width="7.9" stroke-linecap="round"/>
<path d="M621.2,1047 H660.9" stroke="#C0504D" stroke-width="7.9" stroke-linecap="round"/>
<text x="665.8" y="1007.2" font-size="19.0" textLength="37.8" lengthAdjust="spacingAndGlyphs">CQD</text>
<text x="665.8" y="1054.9" font-size="19.0" textLength="136.0" lengthAdjust="spacingAndGlyphs">B,Ndoping CQD</text>
</svg>
</body></html>
